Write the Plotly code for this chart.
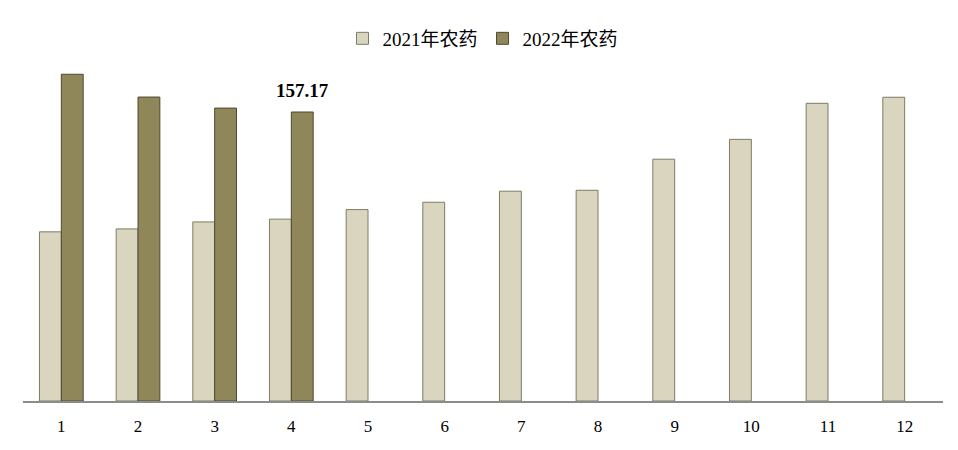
import plotly.graph_objects as go

months = ["1", "2", "3", "4", "5", "6", "7", "8", "9", "10", "11", "12"]
pesticide_2021 = [92.0, 93.6, 97.4, 98.9, 104.1, 108.1, 114.1, 114.6, 131.5, 142.3, 161.9, 165.2]
pesticide_2022 = [177.7, 165.3, 159.3, 157.17, None, None, None, None, None, None, None, None]
label_month = "4"
label_value = 157.17

font_main = "Liberation Serif, Times New Roman, Noto Sans CJK SC, serif"

fig = go.Figure()
fig.add_trace(go.Bar(
    x=months, y=pesticide_2021, name="2021年农药",
    marker=dict(color="#D9D5BF", line=dict(color="#7E7B66", width=1)),
))
fig.add_trace(go.Bar(
    x=months, y=pesticide_2022, name="2022年农药",
    marker=dict(color="#8F865A", line=dict(color="#4E4930", width=1)),
))

# only one data label in the original, over the April 2022 bar
# (category axis: annotation x given as the category index)
fig.add_annotation(
    x=months.index(label_month), y=label_value, text=f"<b>{label_value}</b>",
    showarrow=False, yanchor="bottom", xshift=11, yshift=9,
    font=dict(family=font_main, size=19, color="#000000"),
)

# page has an 8px body margin, so the figure is a bit smaller than the window
fig.update_layout(
    width=950, height=442,
    barmode="group", bargap=0.43, bargroupgap=0,
    paper_bgcolor="white", plot_bgcolor="white",
    margin=dict(l=15, r=15, t=43, b=49),
    font=dict(family=font_main, size=16, color="#000000"),
    legend=dict(orientation="h", x=0.5, xanchor="center", y=1.06, yanchor="middle",
                font=dict(size=19), itemwidth=30, traceorder="normal"),
    xaxis=dict(showline=True, linecolor="#8C8C8C", linewidth=2, ticks="",
               showgrid=False, tickfont=dict(size=17), ticklabelstandoff=9),
    yaxis=dict(range=[0, 186], visible=False, showgrid=False),
)

fig.write_html("out.html")
